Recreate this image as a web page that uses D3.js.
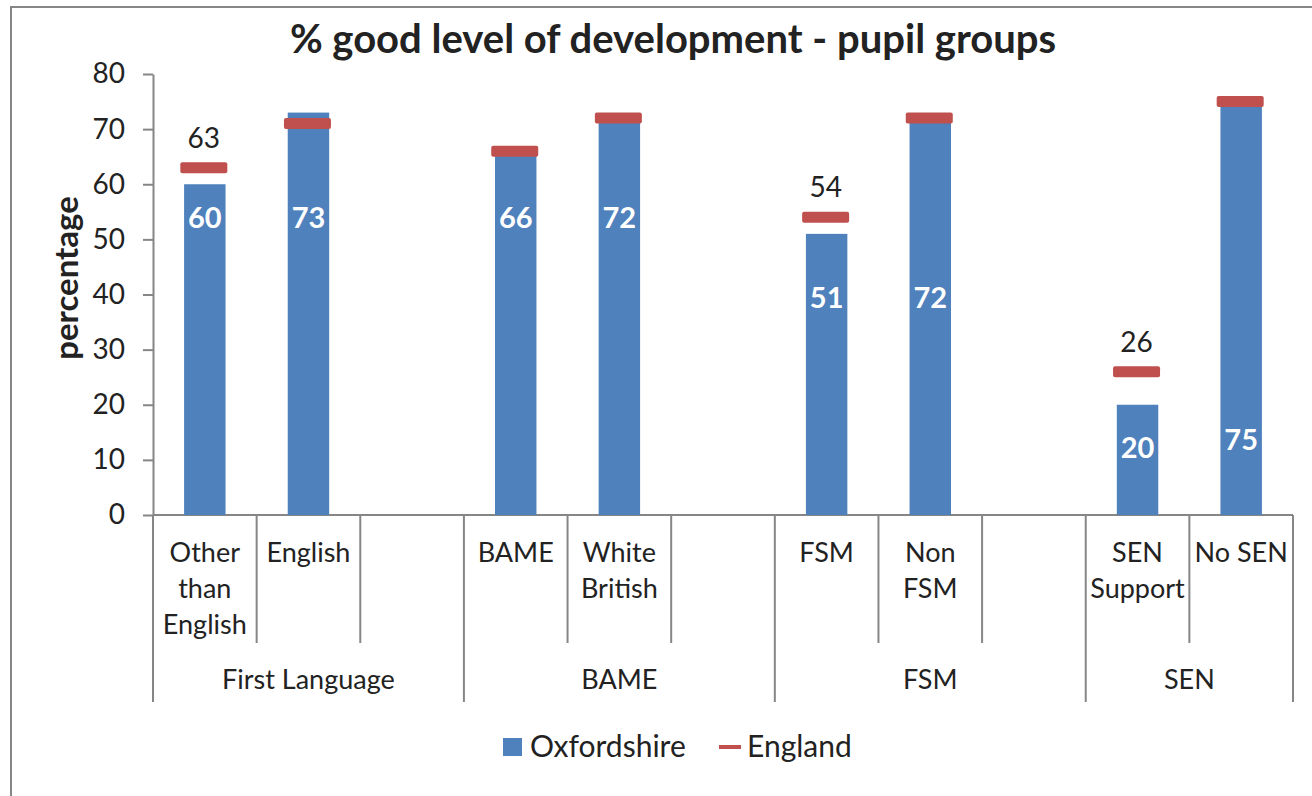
<!DOCTYPE html>
<html>
<head>
<meta charset="utf-8">
<script src="https://cdn.jsdelivr.net/npm/d3@7"></script>
<style>
  body { margin: 0; background: #fff; }
  text { font-family: Lato, "Open Sans", sans-serif; fill: #222; }
</style>
</head>
<body>
<div id="chart"></div>
<script>
// values
var groups = ["First Language", "BAME", "FSM", "SEN"];
var categories = [["Other", "than", "English"], ["English"], ["BAME"], ["White", "British"],
                  ["FSM"], ["Non", "FSM"], ["SEN", "Support"], ["No SEN"]];
var categoryGroup = [0, 0, 1, 1, 2, 2, 3, 3];
var oxfordshire = [60, 73, 66, 72, 51, 72, 20, 75];
var england = [63, 71, 66, 72, 54, 72, 26, 75];
var englandLabels = ["63", "", "", "", "54", "", "26", ""];
// height (in percentage units) at which the white value labels sit
var labelAt = [54, 54, 54, 54, 39.5, 39.5, 12.2, 13.6];
var yTicks = [0, 10, 20, 30, 40, 50, 60, 70, 80];

var width = 1312, height = 796;
var blue = "#4F81BD", red = "#C0504D", grey = "#868686";

var svg = d3.select("#chart").append("svg")
  .attr("width", width)
  .attr("height", height);

// chart frame (runs off the picture on the right and bottom)
svg.append("rect")
  .attr("x", 11).attr("y", 7)
  .attr("width", 1400).attr("height", 900)
  .attr("fill", "none")
  .attr("stroke", grey)
  .attr("stroke-width", 2);

// one slot per category, plus an empty slot after every group but the last
var slots = [];
groups.forEach(function(g, gi) {
  categoryGroup.forEach(function(cg, ci) {
    if (cg === gi) slots.push({ key: "c" + ci, cat: ci, group: gi });
  });
  if (gi < groups.length - 1) slots.push({ key: "gap" + gi, cat: -1, group: gi });
});

var x = d3.scaleBand()
  .domain(slots.map(function(s) { return s.key; }))
  .range([153, 1293])
  .padding(0);

var y = d3.scaleLinear()
  .domain([0, 80])
  .range([515, 74]);

var bw = x.bandwidth();

// y axis
var yAxis = svg.append("g")
  .attr("transform", "translate(153,0)")
  .call(d3.axisLeft(y).tickValues(yTicks).tickSize(10).tickPadding(18).tickSizeOuter(0));
yAxis.select(".domain").attr("stroke", grey).attr("stroke-width", 2);
yAxis.selectAll(".tick line").attr("stroke", grey).attr("stroke-width", 2);
yAxis.selectAll(".tick text")
  .attr("font-size", 28)
  .attr("font-family", "Lato, sans-serif")
  .attr("fill", "#222");

// x axis baseline + slot dividers
var axisG = svg.append("g");
axisG.append("line")
  .attr("x1", 153).attr("x2", 1293)
  .attr("y1", y(0)).attr("y2", y(0))
  .attr("stroke", grey).attr("stroke-width", 2);

var bounds = [];
slots.forEach(function(s, i) {
  var last = (i === slots.length - 1) || slots[i + 1].group !== s.group;
  if (i === 0) bounds.push({ x: x(s.key), long: true });
  bounds.push({ x: x(s.key) + bw, long: last });
});
axisG.selectAll("line.div")
  .data(bounds)
  .enter().append("line")
  .attr("class", "div")
  .attr("x1", function(d) { return d.x; })
  .attr("x2", function(d) { return d.x; })
  .attr("y1", y(0))
  .attr("y2", function(d) { return d.long ? 702 : 643; })
  .attr("stroke", grey).attr("stroke-width", 2);

// category labels
var catSlots = slots.filter(function(s) { return s.cat >= 0; });
var catText = svg.append("g").selectAll("text")
  .data(catSlots)
  .enter().append("text")
  .attr("text-anchor", "middle")
  .attr("font-size", 27)
  .attr("x", function(d) { return x(d.key) + bw / 2; })
  .attr("y", 562);
catText.selectAll("tspan")
  .data(function(d) { return categories[d.cat]; })
  .enter().append("tspan")
  .attr("x", function() { return d3.select(this.parentNode).attr("x"); })
  .attr("dy", function(d, i) { return i === 0 ? 0 : 36; })
  .text(function(d) { return d; });

// group labels
svg.append("g").selectAll("text")
  .data(groups)
  .enter().append("text")
  .attr("text-anchor", "middle")
  .attr("font-size", 27)
  .attr("x", function(d, gi) {
    var own = slots.filter(function(s) { return s.group === gi; });
    return (x(own[0].key) + x(own[own.length - 1].key) + bw) / 2;
  })
  .attr("y", 689)
  .text(function(d) { return d; });

// bars
var barW = bw * 0.4;
svg.append("g").selectAll("rect")
  .data(oxfordshire)
  .enter().append("rect")
  .attr("x", function(d, i) { return x("c" + i) + (bw - barW) / 2; })
  .attr("y", function(d) { return y(d); })
  .attr("width", barW)
  .attr("height", function(d) { return y(0) - y(d); })
  .attr("fill", blue);

// bar value labels
svg.append("g").selectAll("text")
  .data(oxfordshire)
  .enter().append("text")
  .attr("text-anchor", "middle")
  .attr("font-size", 29)
  .attr("font-weight", "bold")
  .style("fill", "#fff")
  .attr("x", function(d, i) { return x("c" + i) + bw / 2; })
  .attr("y", function(d, i) { return y(labelAt[i]); })
  .attr("dy", "0.36em")
  .text(function(d) { return d; });

// England markers
var markW = 47, markH = 11;
svg.append("g").selectAll("rect")
  .data(england)
  .enter().append("rect")
  .attr("x", function(d, i) { return x("c" + i) + (bw - markW) / 2 - 1; })
  .attr("y", function(d) { return y(d) - markH / 2; })
  .attr("width", markW)
  .attr("height", markH)
  .attr("rx", 2)
  .attr("fill", red);

svg.append("g").selectAll("text")
  .data(england)
  .enter().append("text")
  .attr("text-anchor", "middle")
  .attr("font-size", 28)
  .attr("x", function(d, i) { return x("c" + i) + bw / 2 - 1; })
  .attr("y", function(d) { return y(d) - 30; })
  .attr("dy", "0.36em")
  .text(function(d, i) { return englandLabels[i]; });

// title
svg.append("text")
  .attr("x", 673)
  .attr("y", 53)
  .attr("text-anchor", "middle")
  .attr("font-size", 40)
  .attr("font-weight", "bold")
  .text("% good level of development - pupil groups");

// y axis title
svg.append("text")
  .attr("transform", "translate(78,278) rotate(-90)")
  .attr("text-anchor", "middle")
  .attr("font-size", 33)
  .attr("font-weight", "bold")
  .text("percentage");

// legend
var legend = svg.append("g");
legend.append("rect")
  .attr("x", 503).attr("y", 738)
  .attr("width", 19).attr("height", 18)
  .attr("fill", blue);
legend.append("text")
  .attr("x", 530).attr("y", 757)
  .attr("font-size", 30)
  .text("Oxfordshire");
legend.append("line")
  .attr("x1", 719).attr("x2", 741)
  .attr("y1", 747).attr("y2", 747)
  .attr("stroke", red).attr("stroke-width", 4);
legend.append("text")
  .attr("x", 747).attr("y", 757)
  .attr("font-size", 30)
  .text("England");
</script>
</body>
</html>
